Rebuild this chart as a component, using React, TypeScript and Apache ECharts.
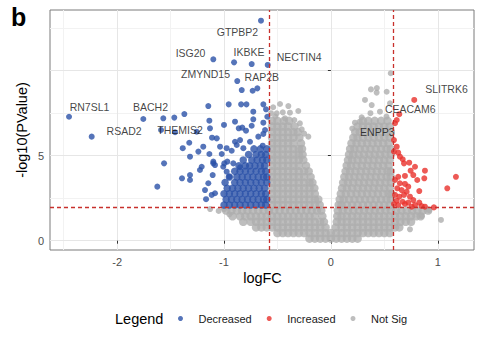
import React, { useEffect, useRef } from "react";
import * as echarts from "echarts";

const FONT = "'Liberation Sans', Arial, Helvetica, sans-serif";

// Axis ticks
const xTicks = [-2, -1, 0, 1];
const xMinorTicks = [-2.5, -1.5, -0.5, 0.5];
const yTicks = [0, 5, 10];
const yTickLabels = [0, 5];
const yMinorTicks = [2.5, 7.5, 12.5];

// Cut-offs (dashed lines)
const fcCutoffs = [-0.585, 0.585];
const pCutoff = 1.94;

// Decreased genes (scattered)
const decreasedPoints: number[][] = [
  [-2.45, 7.29], [-2.238, 6.12], [-1.755, 7.16], [-1.568, 7.2], [-1.465, 7.24], [-1.371, 7.45],
  [-1.589, 6.51], [-1.458, 6.38], [-1.255, 6.41], [-1.147, 7.92], [-1.137, 7.06], [-1.131, 6.61],
  [-1.1, 10.67], [-0.906, 10.49], [-0.876, 9.39], [-0.834, 8.86], [-0.956, 8.02], [-1.0, 6.81],
  [-0.862, 6.61], [-1.386, 5.44], [-1.325, 5.76], [-1.318, 4.94], [-1.24, 5.24], [-1.194, 5.53],
  [-1.112, 6.06], [-1.068, 6.02], [-1.137, 5.1], [-1.037, 5.53], [-1.021, 5.1], [-0.975, 5.44],
  [-0.928, 5.29], [-0.913, 4.55], [-1.209, 4.35], [-1.561, 4.55], [-1.1, 4.55], [-0.997, 4.55],
  [-0.654, 12.94], [-0.741, 10.39], [-0.591, 10.34], [-0.732, 8.82], [-0.688, 8.96], [-0.84, 8.02],
  [-0.79, 8.02], [-0.632, 8.02], [-0.607, 7.73], [-0.726, 7.59], [-0.726, 7.14], [-0.897, 7.0],
  [-0.829, 6.65], [-0.741, 6.76], [-0.632, 6.94], [-0.595, 7.29], [-0.794, 6.47], [-0.757, 5.82],
  [-0.679, 6.12], [-0.616, 6.51], [-0.897, 5.82], [-0.819, 5.44], [-0.638, 5.59], [-0.632, 6.28],
  [-1.624, 3.18], [-1.393, 3.67], [-1.318, 3.57], [-1.318, 3.86], [-1.225, 4.16], [-1.1, 4.65],
  [-1.084, 4.45], [-1.106, 3.86], [-1.178, 2.98], [-1.147, 3.38], [-1.168, 2.44], [-1.115, 2.69],
  [-1.084, 2.79], [-1.007, 4.35], [-0.95, 3.76], [-0.969, 4.65], [-0.881, 5.63], [-0.85, 5.92],
  [-0.85, 4.32], [-0.975, 4.06],
];

// Decreased genes (dense block next to the cut-off), rows of [y, xs]
const decreasedDenseRows: [number, number[]][] = [
  [2.10, [-1.0, -0.95, -0.9, -0.85, -0.8, -0.75, -0.7, -0.65, -0.61]],
  [2.43, [-0.98, -0.93, -0.88, -0.83, -0.78, -0.73, -0.68, -0.63, -0.6]],
  [2.76, [-1.0, -0.95, -0.9, -0.85, -0.8, -0.75, -0.7, -0.65, -0.61]],
  [3.09, [-0.97, -0.92, -0.87, -0.82, -0.77, -0.72, -0.67, -0.62]],
  [3.42, [-0.99, -0.9, -0.85, -0.8, -0.75, -0.7, -0.65, -0.6]],
  [3.75, [-0.95, -0.88, -0.83, -0.78, -0.73, -0.68, -0.63, -0.6]],
  [4.08, [-0.9, -0.85, -0.8, -0.75, -0.7, -0.65, -0.61]],
  [4.41, [-0.86, -0.8, -0.76, -0.71, -0.66, -0.62]],
  [4.74, [-0.82, -0.74, -0.69, -0.64, -0.6]],
  [5.07, [-0.77, -0.7, -0.65, -0.61]],
  [5.40, [-0.72, -0.66, -0.6]],
];

// Increased genes
const increasedPoints: number[][] = [
  [0.78, 8.28], [0.64, 7.44], [0.616, 7.1], [0.6, 6.91], [0.59, 5.92], [0.616, 5.53], [0.59, 5.24],
  [0.63, 5.18], [0.646, 4.94], [0.672, 4.79], [0.684, 4.55], [0.733, 4.59], [0.787, 4.35], [0.88, 4.12],
  [0.746, 4.12], [0.771, 3.86], [0.808, 3.57], [0.693, 3.81], [0.63, 3.76], [0.6, 3.57], [0.646, 3.38],
  [0.693, 3.34], [0.724, 3.18], [0.621, 3.08], [0.662, 2.98], [0.709, 2.88], [0.827, 2.92], [1.17, 3.76],
  [1.089, 3.08], [0.6, 2.69], [0.64, 2.59], [0.684, 2.69], [0.74, 2.59], [0.771, 2.39], [0.616, 2.35],
  [0.672, 2.29], [0.724, 2.24], [0.59, 2.16], [0.63, 2.1], [0.693, 2.16], [0.827, 2.24], [0.849, 2.04],
  [0.88, 2.0], [0.964, 1.96], [0.756, 2.0], [0.787, 2.1], [0.874, 3.67],
];

// Not significant genes (dense cloud), rows of [y, xs]
const notSigRows: [number, number[]][] = [
  [0.12, [-0.2, -0.15, -0.1, -0.05, 0, 0.05, 0.1, 0.15, 0.2, 0.25]],
  [0.45, [-0.5, -0.45, -0.4, -0.35, -0.3, -0.25, -0.2, -0.15, -0.1, -0.05, 0, 0.05, 0.1, 0.15, 0.2, 0.25, 0.3, 0.35, 0.4, 0.45, 0.5, 0.55]],
  [0.78, [-0.7, -0.65, -0.6, -0.55, -0.5, -0.45, -0.4, -0.35, -0.3, -0.25, -0.2, -0.15, -0.1, -0.05, 0.045, 0.1, 0.15, 0.2, 0.25, 0.3, 0.35, 0.4, 0.45, 0.5, 0.55, 0.6, 0.64]],
  [1.11, [-0.82, -0.75, -0.7, -0.65, -0.6, -0.55, -0.5, -0.45, -0.4, -0.35, -0.3, -0.25, -0.2, -0.15, -0.1, -0.065, 0.055, 0.1, 0.15, 0.2, 0.25, 0.3, 0.35, 0.4, 0.45, 0.5, 0.55, 0.6, 0.65, 0.7, 0.75]],
  [1.44, [-0.92, -0.85, -0.8, -0.75, -0.7, -0.65, -0.6, -0.55, -0.5, -0.45, -0.4, -0.35, -0.3, -0.25, -0.2, -0.15, -0.08, 0.06, 0.1, 0.15, 0.2, 0.25, 0.3, 0.35, 0.4, 0.45, 0.5, 0.55, 0.6, 0.65, 0.7, 0.75, 0.8, 0.84]],
  [1.77, [-0.98, -0.93, -0.88, -0.83, -0.78, -0.73, -0.68, -0.63, -0.58, -0.53, -0.48, -0.43, -0.38, -0.33, -0.28, -0.23, -0.18, -0.13, -0.09, 0.065, 0.11, 0.16, 0.21, 0.26, 0.31, 0.36, 0.41, 0.46, 0.51, 0.56, 0.61, 0.66, 0.71, 0.76, 0.81, 0.86, 0.91]],
  [2.10, [-0.55, -0.5, -0.45, -0.4, -0.35, -0.3, -0.25, -0.2, -0.15, -0.105, 0.073, 0.1, 0.15, 0.2, 0.25, 0.3, 0.35, 0.4, 0.45, 0.5, 0.55]],
  [2.43, [-0.55, -0.5, -0.45, -0.4, -0.35, -0.3, -0.25, -0.2, -0.15, -0.118, 0.083, 0.12, 0.17, 0.22, 0.27, 0.32, 0.37, 0.42, 0.47, 0.52, 0.56]],
  [2.76, [-0.55, -0.5, -0.45, -0.4, -0.35, -0.3, -0.25, -0.2, -0.15, 0.093, 0.14, 0.19, 0.24, 0.29, 0.34, 0.39, 0.44, 0.49, 0.54, 0.565]],
  [3.09, [-0.55, -0.5, -0.45, -0.4, -0.35, -0.3, -0.25, -0.2, -0.155, 0.105, 0.15, 0.2, 0.25, 0.3, 0.35, 0.4, 0.45, 0.5, 0.55]],
  [3.42, [-0.55, -0.5, -0.45, -0.4, -0.35, -0.3, -0.25, -0.2, -0.173, 0.115, 0.16, 0.21, 0.26, 0.31, 0.36, 0.41, 0.46, 0.51, 0.56]],
  [3.75, [-0.55, -0.5, -0.45, -0.4, -0.35, -0.3, -0.25, -0.19, 0.126, 0.17, 0.22, 0.27, 0.32, 0.37, 0.42, 0.47, 0.52, 0.56]],
  [4.08, [-0.55, -0.5, -0.45, -0.4, -0.35, -0.3, -0.25, -0.208, 0.138, 0.18, 0.23, 0.28, 0.33, 0.38, 0.43, 0.48, 0.53, 0.56]],
  [4.41, [-0.55, -0.5, -0.45, -0.4, -0.35, -0.3, -0.233, 0.148, 0.19, 0.24, 0.29, 0.34, 0.39, 0.44, 0.49, 0.54]],
  [4.74, [-0.55, -0.5, -0.45, -0.4, -0.35, -0.3, -0.258, 0.16, 0.2, 0.25, 0.3, 0.35, 0.4, 0.45, 0.5, 0.55]],
  [5.07, [-0.55, -0.5, -0.45, -0.4, -0.35, -0.3, -0.265, 0.17, 0.21, 0.26, 0.31, 0.36, 0.41, 0.46, 0.51, 0.56]],
  [5.40, [-0.55, -0.5, -0.45, -0.4, -0.35, -0.3, -0.27, 0.18, 0.22, 0.27, 0.32, 0.37, 0.42, 0.47, 0.52, 0.56]],
  [5.73, [-0.55, -0.5, -0.45, -0.4, -0.35, -0.28, 0.193, 0.24, 0.29, 0.34, 0.39, 0.44, 0.49, 0.54]],
  [6.06, [-0.55, -0.5, -0.45, -0.4, -0.35, -0.295, 0.21, 0.25, 0.3, 0.35, 0.4, 0.45, 0.5, 0.55]],
  [6.39, [-0.55, -0.5, -0.45, -0.4, -0.35, -0.31, 0.228, 0.27, 0.32, 0.37, 0.42, 0.47, 0.52, 0.56]],
  [6.72, [-0.55, -0.5, -0.45, -0.4, -0.34, 0.25, 0.3, 0.35, 0.4, 0.45, 0.5, 0.55]],
  [7.05, [-0.55, -0.5, -0.44, -0.39, 0.3, 0.35, 0.41, 0.47, 0.53]],
];

// Not significant genes (scattered outliers)
const notSigPoints: number[][] = [
  [-0.476, 8.04], [-0.398, 7.92], [-0.383, 7.53], [-0.305, 7.63], [-0.45, 7.55], [-0.507, 7.49],
  [-0.429, 7.2], [-0.342, 7.1], [-0.273, 6.55], [-0.211, 6.12], [-0.25, 6.3], [-0.56, 7.5],
  [-0.54, 7.85], [-0.52, 7.3], [-0.29, 6.9],
  [0.375, 8.9], [0.428, 8.71], [0.43, 8.98], [0.522, 8.76], [0.319, 8.28], [0.382, 7.98],
  [0.225, 6.94], [0.288, 7.26], [0.37, 7.5], [0.459, 7.59], [0.52, 7.3], [0.553, 8.08],
  [0.56, 9.85], [0.27, 7.0], [0.2, 6.6],
  [-1.13, 1.86], [-1.0, 1.85], [-1.05, 1.75], [1.03, 1.22], [0.74, 0.67], [0.92, 1.8],
  [0.85, 1.45], [-0.95, 1.55],
];

// Gene labels: [name, x, y] (label centre)
const geneLabels: [string, number, number][] = [
  ["GTPBP2", -0.874, 12.26], ["ISG20", -1.313, 11.04], ["IKBKE", -0.766, 11.1],
  ["NECTIN4", -0.297, 10.8], ["ZMYND15", -1.173, 9.81], ["RAP2B", -0.646, 9.63],
  ["RN7SL1", -2.258, 7.88], ["BACH2", -1.688, 7.85], ["RSAD2", -1.935, 6.47],
  ["THEMIS2", -1.412, 6.51], ["SLITRK6", 1.081, 8.9], ["CEACAM6", 0.743, 7.73],
  ["ENPP3", 0.434, 6.39],
];

const rowsToPoints = (rows: [number, number[]][]) =>
  rows.flatMap(([y, xs]) => xs.map((x) => [x, y]));

const BLUE = "#2A51A8";
const RED = "#E8312C";
const GREY = "#AEAEAE";

const X_MIN = -2.628;
const X_MAX = 1.339;
const Y_MIN = -0.547;
const Y_MAX = 13.57;

export default function App() {
  const ref = useRef<HTMLDivElement>(null);

  useEffect(() => {
    if (!ref.current) return;
    const chart = echarts.init(ref.current, null, { renderer: "svg" });

    const baseAxis = (min: number, max: number) => ({
      type: "value" as const,
      min,
      max,
      axisLine: { show: false },
    });

    chart.setOption({
      animation: false,
      backgroundColor: "#ffffff",
      textStyle: { fontFamily: FONT },
      grid: {
        left: 50,
        right: 4,
        top: 10,
        bottom: 87,
        show: true,
        borderColor: "#7A7A7A",
        borderWidth: 1,
        backgroundColor: "#ffffff",
      },
      xAxis: [
        {
          ...baseAxis(X_MIN, X_MAX),
          splitNumber: 4,
          z: 1,
          axisTick: { show: true, customValues: xTicks, length: 3, lineStyle: { color: "#333333" } },
          axisLabel: { customValues: xTicks, color: "#4D4D4D", fontSize: 11, margin: 6, fontFamily: FONT },
          splitLine: { show: true, lineStyle: { color: "#E6E6E6", width: 1 } },
        },
        {
          ...baseAxis(X_MIN, X_MAX),
          splitNumber: 8,
          z: 0,
          axisTick: { show: false, customValues: xMinorTicks },
          axisLabel: { show: false, customValues: xMinorTicks },
          splitLine: { show: true, lineStyle: { color: "#F2F2F2", width: 1 } },
        },
      ],
      yAxis: [
        {
          ...baseAxis(Y_MIN, Y_MAX),
          splitNumber: 3,
          z: 1,
          axisTick: { show: true, customValues: yTicks, length: 3, lineStyle: { color: "#333333" } },
          axisLabel: { customValues: yTickLabels, color: "#4D4D4D", fontSize: 11, margin: 6, fontFamily: FONT },
          splitLine: { show: true, lineStyle: { color: "#E6E6E6", width: 1 } },
        },
        {
          ...baseAxis(Y_MIN, Y_MAX),
          splitNumber: 6,
          z: 0,
          axisTick: { show: false, customValues: yMinorTicks },
          axisLabel: { show: false, customValues: yMinorTicks },
          splitLine: { show: true, lineStyle: { color: "#F2F2F2", width: 1 } },
        },
      ],
      legend: {
        data: ["Decreased", "Increased", "Not Sig"],
        left: 173,
        top: 308,
        itemWidth: 26,
        itemHeight: 5,
        itemGap: 15,
        icon: "circle",
        selectedMode: false,
        textStyle: { fontSize: 11, color: "#1A1A1A", fontFamily: FONT },
      },
      graphic: [
        {
          type: "text",
          left: 11,
          top: 4,
          style: { text: "b", font: `bold 25px ${FONT}`, fill: "#000" },
        },
        {
          type: "text",
          x: 22,
          y: 130,
          rotation: Math.PI / 2,
          style: {
            text: "-log10(PValue)",
            font: `14.5px ${FONT}`,
            fill: "#000",
            align: "center",
            verticalAlign: "middle",
          },
        },
        {
          type: "text",
          x: 262.5,
          y: 278,
          style: {
            text: "logFC",
            font: `14.5px ${FONT}`,
            fill: "#000",
            align: "center",
            verticalAlign: "middle",
          },
        },
        {
          type: "text",
          x: 115,
          y: 318.5,
          style: {
            text: "Legend",
            font: `14.5px ${FONT}`,
            fill: "#000",
            align: "left",
            verticalAlign: "middle",
          },
        },
      ],
      series: [
        {
          name: "Not Sig",
          type: "scatter",
          xAxisIndex: 0,
          yAxisIndex: 0,
          symbolSize: 8.5,
          itemStyle: { color: GREY },
          data: rowsToPoints(notSigRows),
          silent: true,
        },
        {
          name: "Not Sig",
          type: "scatter",
          xAxisIndex: 0,
          yAxisIndex: 0,
          symbolSize: 6,
          itemStyle: { color: GREY },
          data: notSigPoints,
          silent: true,
        },
        {
          name: "Decreased",
          type: "scatter",
          xAxisIndex: 0,
          yAxisIndex: 0,
          symbolSize: 7.5,
          itemStyle: { color: BLUE },
          data: rowsToPoints(decreasedDenseRows),
          silent: true,
        },
        {
          name: "Decreased",
          type: "scatter",
          xAxisIndex: 0,
          yAxisIndex: 0,
          symbolSize: 6,
          itemStyle: { color: BLUE },
          data: decreasedPoints,
          silent: true,
        },
        {
          name: "Increased",
          type: "scatter",
          xAxisIndex: 0,
          yAxisIndex: 0,
          symbolSize: 6,
          itemStyle: { color: RED },
          data: increasedPoints,
          silent: true,
        },
        {
          name: "labels",
          type: "scatter",
          xAxisIndex: 0,
          yAxisIndex: 0,
          symbolSize: 1,
          itemStyle: { color: "rgba(0,0,0,0)" },
          silent: true,
          data: geneLabels.map(([n, x, y]) => ({ name: n, value: [x, y] })),
          label: {
            show: true,
            position: "inside",
            formatter: "{b}",
            color: "#111111",
            fontSize: 10.5,
            fontFamily: FONT,
          },
          markLine: {
            silent: true,
            symbol: "none",
            label: { show: false },
            lineStyle: { color: "#C8302C", type: [4, 3], width: 1.3 },
            data: [
              ...fcCutoffs.map((v) => ({ xAxis: v })),
              { yAxis: pCutoff },
            ],
          },
        },
      ],
    });

    return () => chart.dispose();
  }, []);

  return (
    <div
      ref={ref}
      style={{ position: "fixed", left: 0, top: 0, width: 478, height: 337, background: "#fff" }}
    />
  );
}
